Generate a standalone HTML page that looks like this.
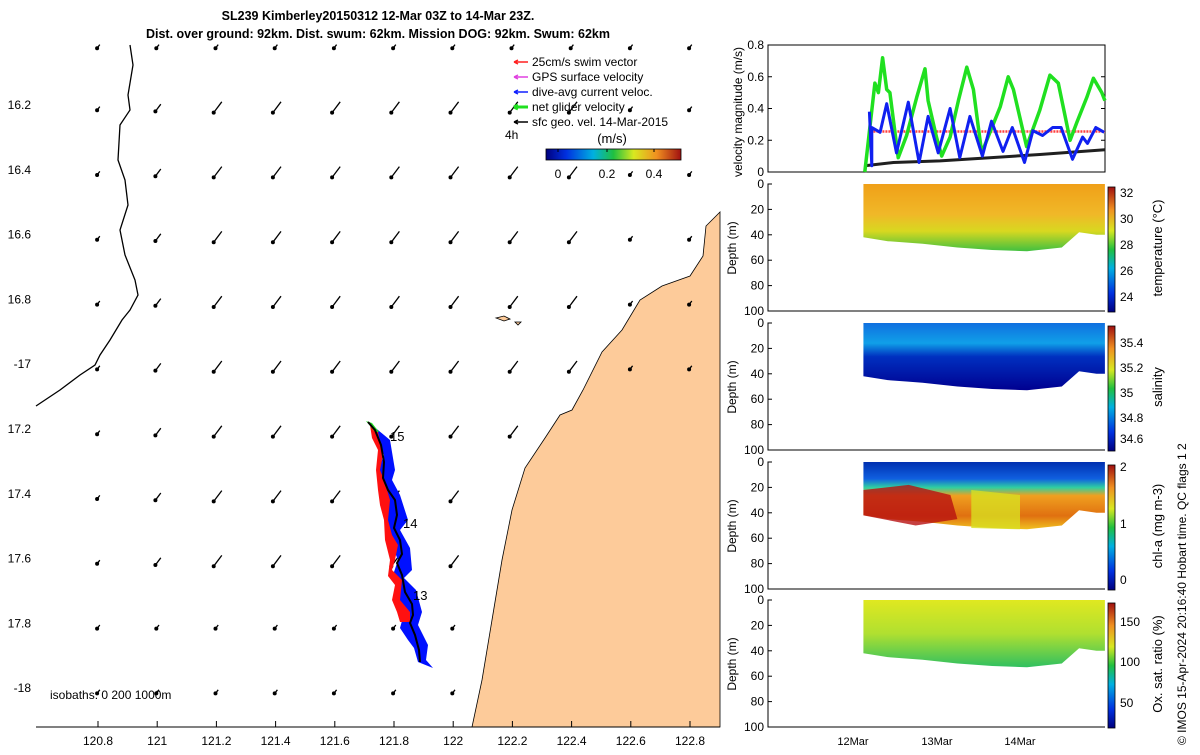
<!DOCTYPE html>
<html><head><meta charset="utf-8">
<style>
body{margin:0;background:#fff;font-family:"Liberation Sans",sans-serif;}
svg text{font-family:"Liberation Sans",sans-serif;}
</style></head>
<body>
<svg id="s" width="1200" height="750" viewBox="0 0 1200 750" xmlns="http://www.w3.org/2000/svg">
<defs>
<linearGradient id="jet" x1="0" y1="1" x2="0" y2="0">
<stop offset="0" stop-color="#00007f"/><stop offset="0.15" stop-color="#0030e0"/><stop offset="0.35" stop-color="#00b0e0"/><stop offset="0.5" stop-color="#20c040"/><stop offset="0.65" stop-color="#d8e820"/><stop offset="0.82" stop-color="#f09020"/><stop offset="1" stop-color="#a01010"/></linearGradient>
<linearGradient id="jeth" x1="0" y1="0" x2="1" y2="0">
<stop offset="0" stop-color="#00007f"/><stop offset="0.15" stop-color="#0030e0"/><stop offset="0.35" stop-color="#00b0e0"/><stop offset="0.5" stop-color="#20c040"/><stop offset="0.65" stop-color="#d8e820"/><stop offset="0.82" stop-color="#f09020"/><stop offset="1" stop-color="#a01010"/></linearGradient>
<linearGradient id="gT" x1="0" y1="0" x2="0" y2="1"><stop offset="0" stop-color="#f0a018"/><stop offset="0.45" stop-color="#f0b828"/><stop offset="0.7" stop-color="#d8d820"/><stop offset="1" stop-color="#40c040"/></linearGradient>
<linearGradient id="gS" x1="0" y1="0" x2="0" y2="1"><stop offset="0" stop-color="#1070e0"/><stop offset="0.3" stop-color="#10a0e8"/><stop offset="0.5" stop-color="#0030c0"/><stop offset="1" stop-color="#000090"/></linearGradient>
<linearGradient id="gC" x1="0" y1="0" x2="0" y2="1"><stop offset="0" stop-color="#0030b0"/><stop offset="0.25" stop-color="#1060e0"/><stop offset="0.38" stop-color="#30d0a0"/><stop offset="0.5" stop-color="#f0a020"/><stop offset="0.8" stop-color="#e07010"/><stop offset="1" stop-color="#f0c020"/></linearGradient>
<linearGradient id="gO" x1="0" y1="0" x2="0" y2="1"><stop offset="0" stop-color="#e0e820"/><stop offset="0.5" stop-color="#b0e030"/><stop offset="1" stop-color="#30c060"/></linearGradient>
</defs>
<g id="map"></g>
<g id="right"></g>
</svg>
<script>
// velocity series (hours since 12-Mar 00Z, m/s)
const greenT=[3.4,6.3,7.3,8.5,9.7,10.6,13,15.4,18.3,20.7,21.6,24,25.5,27.9,30.3,32.7,34.6,37,42.3,44.6,46.1,49.9,53.7,56.6,59,62.4,64.3,67.2,69.1,71.5,72.4];
const greenV=[0,0.56,0.5,0.72,0.52,0.5,0.09,0.23,0.47,0.65,0.45,0.22,0.1,0.22,0.45,0.66,0.52,0.12,0.41,0.6,0.52,0.16,0.39,0.61,0.56,0.2,0.31,0.47,0.59,0.5,0.45];
const blueT=[4.7,5.4,5.4,7.8,9.7,12.5,15.9,19,21.6,24.5,27.9,30.7,33.6,37.2,39.8,43.1,45.8,49.3,51.7,54.5,57.4,59.8,63.1,66,67.4,69.8,72.2];
const blueV=[0.38,0.04,0.28,0.25,0.43,0.12,0.44,0.06,0.35,0.12,0.4,0.09,0.35,0.1,0.32,0.13,0.28,0.06,0.26,0.23,0.28,0.28,0.08,0.22,0.18,0.28,0.25];
const redT=[5,72.4]; const redV=[0.255,0.255];
const blackT=[3.4,11.6,25,39.3,53.7,72.4]; const blackV=[0.04,0.06,0.07,0.09,0.11,0.14];
// section bottom depth (m)
const botT=[3,10,20,30,40,50,60,65,70,72.4];
const botD=[42,45,47,50,52,53,50,38,40,40];
// map ticks
const lonTicks=[120.8,121,121.2,121.4,121.6,121.8,122,122.2,122.4,122.6,122.8];
const latTicks=[-16.2,-16.4,-16.6,-16.8,-17,-17.2,-17.4,-17.6,-17.8,-18];
const latLabels=["16.2","16.4","16.6","16.8","-17","17.2","17.4","17.6","17.8","-18"];

const S=document.getElementById('s'),M=document.getElementById('map'),R=document.getElementById('right');
const NS='http://www.w3.org/2000/svg';
function el(p,tag,a,txt){const e=document.createElementNS(NS,tag);for(const k in a)e.setAttribute(k,a[k]);if(txt!=null)e.textContent=txt;p.appendChild(e);return e;}
const lx=v=>98+(v-120.8)/0.2*59.2;
const ly=v=>105+(-16.2-v)/0.2*64.8;
// land
let land=el(M,'path',{d:'M720,212 L706,226 L703,256 L690,276 L662,286 L640,300 L622,330 L602,352 L583,390 L572,410 L560,415 L545,438 L525,468 L512,510 L502,560 L492,620 L482,680 L472,727 L720,727 Z',fill:'#fdcb9a',stroke:'#000','stroke-width':0.8});


let isl=el(M,'path',{d:'M496,318 l8,-2 l6,3 l-6,2 z M515,322 l6,0 l-3,3z',fill:'#fdcb9a',stroke:'#000','stroke-width':0.8});


let iso=el(M,'path',{d:'M130,45 L133,65 L128,95 L130,110 L120,125 L118,160 L125,180 L128,205 L120,230 L125,255 L135,280 L138,295 L130,310 L122,320 L110,340 L100,355 L95,365 L80,375 L60,390 L36,406',fill:'none',stroke:'#000','stroke-width':1.3});


// arrows
for(let lat=-16;lat>=-18.01;lat-=0.2){for(const lon of lonTicks){
 const x=lx(lon),y=lat>-16.1?47:ly(lat)+4;
 if(x>690&&y>205)continue; if(x>560&&y>400)continue; if(x>500&&y>470)continue;
 const L=(x<140||x>600||y>620||y<60)?3:(x<200?6:9);
 let a=el(M,'path',{d:`M${x+L*0.6},${y-L*0.8} L${x-L*0.3},${y+L*0.4}`,stroke:'#000','stroke-width':1.3,fill:'none'});
 
 
 let c=el(M,'circle',{cx:x-L*0.3,cy:y+L*0.4,r:2,fill:'#000'});
 
 
}}
// glider track
const tr='M368,422 L375,430 L381,445 L384,462 L383,478 L388,490 L395,500 L397,515 L394,528 L400,540 L402,554 L397,563 L402,575 L405,592 L412,604 L413,615 L410,623 L415,635 L419,650 L420,662';
let bl=el(M,'path',{d:'M372,425 L390,440 L395,470 L392,480 L400,495 L408,520 L400,530 L410,548 L412,570 L404,578 L416,590 L422,612 L418,625 L428,645 L426,660 L433,668 L418,662 L414,648 L408,640 L400,628 L405,610 L398,598 L396,585 L392,578 L398,560 L392,545 L388,535 L386,512 L380,505 L385,490 L378,470 L384,455 Z',fill:'#0010ff'});


let rd=el(M,'path',{d:'M370,425 L378,432 L383,455 L380,470 L384,480 L390,500 L388,520 L392,535 L398,545 L395,560 L392,570 L402,580 L400,600 L410,612 L410,622 L400,622 L397,612 L392,600 L395,585 L388,576 L390,560 L385,540 L384,520 L380,505 L378,490 L376,470 L378,450 L372,438 Z',fill:'#ff1010'});


let gr=el(M,'path',{d:'M366,421 L372,423 L379,432 L375,432 Z',fill:'#20e020'});


let tk=el(M,'path',{d:tr,fill:'none',stroke:'#000','stroke-width':2});


[['15',390,441],['14',403,528],['13',413,600]].forEach(d=>{let t=el(M,'text',{x:d[1],y:d[2],'font-size':13},d[0]);

});
// map axes
let fr=el(M,'path',{d:'M36,727 L720,727',stroke:'#000','stroke-width':1});


lonTicks.forEach(v=>{el(M,'line',{x1:lx(v),x2:lx(v),y1:727,y2:721,stroke:'#000'});let t=el(M,'text',{x:lx(v),y:745,'font-size':12,'text-anchor':'middle'},v);

});
latTicks.forEach((v,i)=>{let t=el(M,'text',{x:31,y:ly(v)+4,'font-size':12,'text-anchor':'end'},latLabels[i]);

});
let ib=el(M,'text',{x:50,y:699,'font-size':12},'isobaths: 0   200  1000m');


// title
[['SL239 Kimberley20150312 12-Mar 03Z to 14-Mar 23Z.',378,20],['Dist. over ground: 92km. Dist. swum: 62km. Mission DOG: 92km. Swum: 62km',378,38]].forEach(d=>{let t=el(S,'text',{x:d[1],y:d[2],'font-size':12.5,'font-weight':'bold','text-anchor':'middle'},d[0]);

});
// legend
const leg=[['25cm/s swim vector','#ff2020'],['GPS surface velocity','#e040e0'],['dive-avg current veloc.','#1020ff'],['net glider velocity','#20e020'],['sfc geo. vel. 14-Mar-2015','#000']];
leg.forEach((d,i)=>{const y=62+i*15;let g=el(M,'g',{});


el(g,'path',{d:`M514,${y} L528,${y} M514,${y} l4,-2 M514,${y} l4,2`,stroke:d[1],'stroke-width':i==3?3:1.5,fill:'none'});
el(g,'text',{x:532,y:y+4,'font-size':12},d[0]);});
let h4=el(M,'text',{x:505,y:139,'font-size':12},'4h');


let ms=el(M,'text',{x:612,y:143,'font-size':13,'text-anchor':'middle'},'(m/s)');


let cb=el(M,'rect',{x:546,y:149,width:135,height:11,fill:'url(#jeth)',stroke:'#000','stroke-width':0.8});


[['0',558],['0.2',607],['0.4',654]].forEach(d=>{el(M,'line',{x1:d[1],x2:d[1],y1:149,y2:152,stroke:'#000'});let t=el(M,'text',{x:d[1],y:178,'font-size':12,'text-anchor':'middle'},d[0]);

});

// right panels
const X0=768,X1=1105;
const tx=h=>853+h/24*83.5;
// velocity panel
const vy=v=>172-v/0.8*127;
let vp=el(R,'rect',{x:X0,y:45,width:X1-X0,height:127,fill:'none',stroke:'#000'});


[0,0.2,0.4,0.6,0.8].forEach(v=>{el(R,'line',{x1:X0,x2:X0+4,y1:vy(v),y2:vy(v),stroke:'#000'});el(R,'line',{x1:X1,x2:X1-4,y1:vy(v),y2:vy(v),stroke:'#000'});let t=el(R,'text',{x:X0-4,y:vy(v)+4,'font-size':12,'text-anchor':'end'},v);

});
let vt=el(R,'text',{transform:`translate(${X0-26},112) rotate(-90)`,'font-size':12,'text-anchor':'middle'},'velocity magnitude (m/s)');


function line(T,V,c,w,name,dash){const d=T.map((t,i)=>(i?'L':'M')+tx(t).toFixed(1)+','+vy(V[i]).toFixed(1)).join(' ');const p=el(R,'path',{d,stroke:c,'stroke-width':w,fill:'none','stroke-linejoin':'round'});if(dash)p.setAttribute('stroke-dasharray',dash);

}
line(redT,redV,'#ff4040',2.5,'swim-speed-line','2 1');
line(blackT,blackV,'#202020',3,'geostrophic-speed-line');
line(greenT,greenV,'#20e020',3.5,'net-velocity-line');
line(blueT,blueV,'#1020f0',3,'dive-avg-current-line');
// section panels
const panels=[
 {y0:184,fill:'url(#gT)',name:'temperature',label:'temperature (°C)',ticks:[['32',193],['30',219],['28',245],['26',271],['24',297]]},
 {y0:323,fill:'url(#gS)',name:'salinity',label:'salinity',ticks:[['35.4',343],['35.2',368],['35',393],['34.8',418],['34.6',439]]},
 {y0:462,fill:'url(#gC)',name:'chlorophyll',label:'chl-a (mg m-3)',ticks:[['2',467],['1',524],['0',580]]},
 {y0:600,fill:'url(#gO)',name:'oxygen',label:'Ox. sat. ratio (%)',ticks:[['150',622],['100',662],['50',703]]}];
panels.forEach(p=>{
 const dy=d=>p.y0+d*1.27;
 const g=el(R,'g',{});
 
 
 let d='M'+tx(botT[0])+','+dy(0)+' '+botT.map((t,i)=>'L'+tx(t).toFixed(1)+','+dy(botD[i]).toFixed(1)).join(' ')+' L'+tx(72.4)+','+dy(0)+' Z';
 const sect=el(g,'path',{d,fill:p.fill});
 
 
 if(p.name==='chlorophyll'){
  const rb=el(g,'path',{d:`M${tx(3)},${dy(22)} L${tx(16)},${dy(18)} L${tx(28)},${dy(26)} L${tx(30)},${dy(45)} L${tx(18)},${dy(50)} L${tx(3)},${dy(42)} Z`,fill:'#b81010',opacity:0.8});
  
  
  const yb=el(g,'path',{d:`M${tx(34)},${dy(22)} L${tx(48)},${dy(26)} L${tx(48)},${dy(53)} L${tx(34)},${dy(52)} Z`,fill:'#d8e020',opacity:0.8});
  
  
 }
 el(g,'path',{d:`M${X0+4},${p.y0} L${X0},${p.y0} L${X0},${p.y0+127} L${X1},${p.y0+127}`,stroke:'#000',fill:'none'});
 [0,20,40,60,80,100].forEach(v=>{el(g,'line',{x1:X0,x2:X0+4,y1:dy(v),y2:dy(v),stroke:'#000'});let t=el(g,'text',{x:X0-4,y:dy(v)+4,'font-size':12,'text-anchor':'end'},v);
 
 });
 let yt=el(g,'text',{transform:`translate(${X0-32},${p.y0+64}) rotate(-90)`,'font-size':12,'text-anchor':'middle'},'Depth (m)');
 
 
 let c=el(g,'rect',{x:1108,y:p.y0+3,width:7,height:125,fill:'url(#jet)',stroke:'#000','stroke-width':0.8});
 
 
 p.ticks.forEach(k=>{let t=el(g,'text',{x:1120,y:k[1]+4,'font-size':12},k[0]);
 
 });
 let cl=el(g,'text',{transform:`translate(1162,${p.y0+64}) rotate(-90)`,'font-size':13,'text-anchor':'middle'},p.label);
 
 
});
[['12Mar',853],['13Mar',937],['14Mar',1020]].forEach(d=>{let t=el(R,'text',{x:d[1],y:745,'font-size':11,'text-anchor':'middle'},d[0]);

});
let cp=el(S,'text',{transform:'translate(1186,745) rotate(-90)','font-size':12},'© IMOS 15-Apr-2024 20:16:40 Hobart time. QC flags 1  2');


</script>
</body></html>
